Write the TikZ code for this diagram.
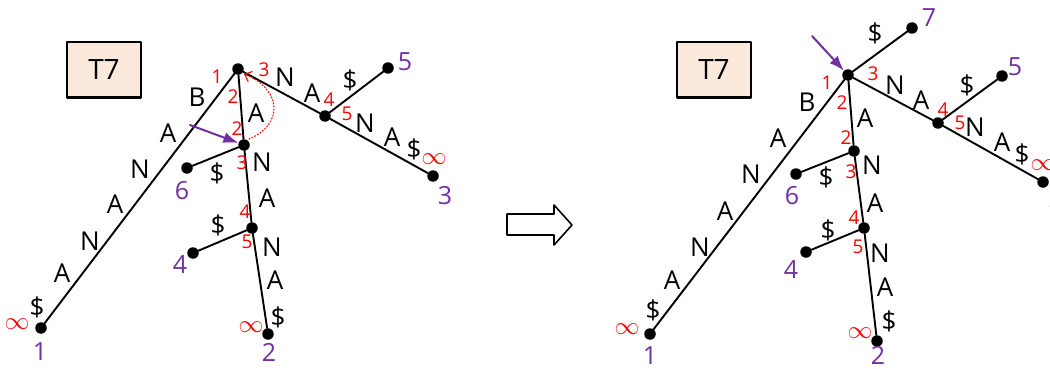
\documentclass[tikz,border=0pt]{standalone}
\usepackage{fontspec}
\setmainfont{Open Sans}
\usetikzlibrary{arrows.meta}
\definecolor{peach}{RGB}{251,233,220}
\definecolor{leafviolet}{RGB}{112,48,160}
\tikzset{
  dot/.style={circle,fill=black,inner sep=0pt,minimum size=11.5pt},
  ch/.style={font=\fontsize{26}{26}\selectfont,inner sep=0pt},
  idx/.style={text=red,font=\fontsize{19}{19}\selectfont,inner sep=0pt},
  inf/.style={text=red,font=\fontsize{24}{24}\selectfont,inner sep=0pt},
  leafno/.style={text=leafviolet,font=\fontsize{25}{25}\selectfont,inner sep=0pt},
  edge/.style={line width=1.9pt},
  tbox/.style={draw,line width=2pt,fill=peach,minimum width=74pt,minimum height=55pt,font=\fontsize{28}{28}\selectfont},
  ptr/.style={leafviolet,line width=2pt,-{Latex[length=15pt,width=11pt]}},
}
\begin{document}
\begin{tikzpicture}[x=1pt,y=-1pt,line join=round,line cap=round]
  \useasboundingbox (0,0) rectangle (1050,369);
  % left tree
  \node[tbox] (box) at (104,70) {T7};
  \node[dot] (r) at (238,69) {};
  \node[dot] (u) at (244,145) {};
  \node[dot] (v) at (252,228) {};
  \node[dot] (w) at (325,116) {};
  \node[dot] (a1) at (41,328) {};
  \node[dot] (a2) at (268,334) {};
  \node[dot] (a3) at (433,176) {};
  \node[dot] (a4) at (193,253) {};
  \node[dot] (a5) at (388,68) {};
  \node[dot] (a6) at (187,168) {};
  \draw[edge] (r)--(a1) (r)--(u)--(v)--(a2) (u)--(a6) (v)--(a4) (r)--(w)--(a5) (w)--(a3);
  \node[ch] (c1) at (197,97) {B};   \node[ch] (c2) at (168,133) {A};
  \node[ch] (c3) at (140,169) {N};  \node[ch] (c4) at (115,204) {A};
  \node[ch] (c5) at (90,241) {N};   \node[ch] (c6) at (62,273) {A};
  \node[ch] (c7) at (37,307) {\$};
  \node[ch] (c8) at (256,113) {A};  \node[ch] (c9) at (262,162) {N};
  \node[ch] (c10) at (267,198) {A}; \node[ch] (c11) at (272,247) {N};
  \node[ch] (c12) at (275,280) {A}; \node[ch] (c13) at (278,317) {\$};
  \node[ch] (c14) at (217,173) {\$}; \node[ch] (c15) at (218,225) {\$};
  \node[ch] (c16) at (285,77) {N};  \node[ch] (c17) at (312,93) {A};
  \node[ch] (c18) at (350,80) {\$}; \node[ch] (c19) at (365,123) {N};
  \node[ch] (c20) at (392,137) {A}; \node[ch] (c21) at (414,149) {\$};
  \node[idx] (p1) at (217,77) {1};  \node[idx] (p2) at (233,97) {2};
  \node[idx] (p3) at (264,70) {3};  \node[idx] (p4) at (237,129) {2};
  \node[idx] (p5) at (242,163) {3}; \node[idx] (p6) at (245,212) {4};
  \node[idx] (p7) at (247,242) {5}; \node[idx] (p8) at (329,100) {4};
  \node[idx] (p9) at (347,114) {5};
  \node[inf] (i1) at (17,324) {$\infty$};  \node[inf] (i2) at (251,327) {$\infty$};
  \node[inf] (i3) at (434,159) {$\infty$};
  \node[leafno] (n1) at (40,352) {1}; \node[leafno] (n2) at (269,352) {2};
  \node[leafno] (n3) at (445,196) {3}; \node[leafno] (n4) at (180,265) {4};
  \node[leafno] (n5) at (405,62) {5}; \node[leafno] (n6) at (182,191) {6};
  \coordinate (tail) at (190,125);
  \draw[ptr] (tail)--(u);
  \draw[red,dotted,line width=1.1pt,-{Straight Barb[length=6pt,width=11pt]}] (249,139) .. controls (283,125) and (283,90) .. (244,74);
  % block arrow
  \draw[line width=1.6pt,fill=white] (507,214)--(554,214)--(554,205)--(572,225)--(554,245)--(554,235)--(507,235)--cycle;
  % right tree
  \node[tbox] (rbox) at (714,70) {T7};
  \node[dot] (R) at (848,75) {};
  \node[dot] (U) at (854,151) {};
  \node[dot] (V) at (864,228) {};
  \node[dot] (W) at (938,123) {};
  \node[dot] (b1) at (650,334) {};
  \node[dot] (b2) at (877,341) {};
  \node[dot] (b3) at (1043,182) {};
  \node[dot] (b4) at (806,252) {};
  \node[dot] (b5) at (1002,76) {};
  \node[dot] (b6) at (796,174) {};
  \node[dot] (b7) at (912,28) {};
  \draw[edge] (R)--(b1) (R)--(U)--(V)--(b2) (U)--(b6) (V)--(b4) (R)--(W)--(b5) (W)--(b3) (R)--(b7);
  \node[ch] (d1) at (807,102) {B};  \node[ch] (d2) at (778,138) {A};
  \node[ch] (d3) at (751,174) {N};  \node[ch] (d4) at (725,211) {A};
  \node[ch] (d5) at (700,247) {N};  \node[ch] (d6) at (672,280) {A};
  \node[ch] (d7) at (653,310) {\$};
  \node[ch] (d8) at (865,118) {A};  \node[ch] (d9) at (872,165) {N};
  \node[ch] (d10) at (875,203) {A}; \node[ch] (d11) at (880,253) {N};
  \node[ch] (d12) at (885,287) {A}; \node[ch] (d13) at (889,321) {\$};
  \node[ch] (d14) at (826,177) {\$}; \node[ch] (d15) at (828,230) {\$};
  \node[ch] (d16) at (895,85) {N};  \node[ch] (d17) at (921,100) {A};
  \node[ch] (d18) at (967,85) {\$}; \node[ch] (d19) at (975,127) {N};
  \node[ch] (d20) at (1002,142) {A}; \node[ch] (d21) at (1022,154) {\$};
  \node[ch] (d22) at (875,33) {\$};
  \node[idx] (q1) at (827,83) {1};  \node[idx] (q2) at (842,103) {2};
  \node[idx] (q3) at (873,74) {3};  \node[idx] (q4) at (846,138) {2};
  \node[idx] (q5) at (851,172) {3}; \node[idx] (q6) at (854,218) {4};
  \node[idx] (q7) at (858,247) {5}; \node[idx] (q8) at (943,110) {4};
  \node[idx] (q9) at (960,123) {5};
  \node[inf] (j1) at (627,329) {$\infty$}; \node[inf] (j2) at (860,333) {$\infty$};
  \node[inf] (j3) at (1043,165) {$\infty$};
  \node[leafno] (m1) at (650,356) {1}; \node[leafno] (m2) at (878,355) {2};
  \node[leafno] (m3) at (1056,200) {3}; \node[leafno] (m4) at (791,270) {4};
  \node[leafno] (m5) at (1015,67) {5}; \node[leafno] (m6) at (792,196) {6};
  \node[leafno] (m7) at (929,18) {7};
  \coordinate (rtail) at (812,36);
  \draw[ptr] (rtail)--(R);
\end{tikzpicture}
\end{document}
